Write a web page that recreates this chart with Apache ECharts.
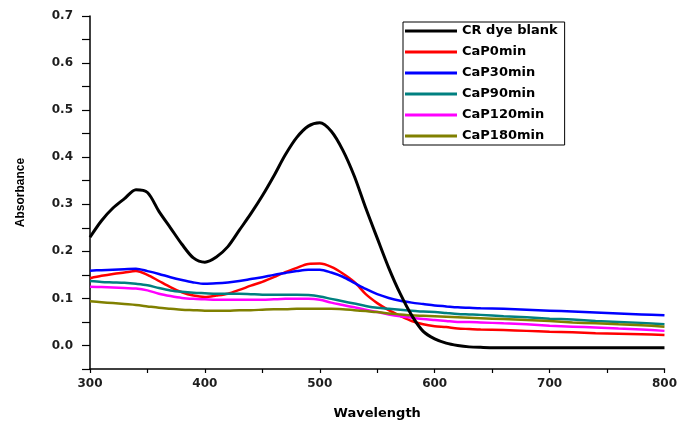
<!DOCTYPE html>
<html>
<head>
<meta charset="utf-8">
<title>Absorbance spectra</title>
<script src="https://cdn.jsdelivr.net/npm/echarts@6/dist/echarts.min.js"></script>
<style>
  html, body { margin: 0; padding: 0; background: #fff; }
  #chart { width: 680px; height: 425px; }
</style>
</head>
<body>
<div id="chart"></div>
<script>
// Wavelength grid (nm) shared by all spectra
const wavelengths = [300, 310, 320, 330, 340, 350, 360, 370, 380, 390,
  400, 410, 420, 430, 440, 450, 460, 470, 480, 490,
  500, 510, 520, 530, 540, 550, 560, 570, 580, 590,
  600, 610, 620, 630, 640, 660, 680, 700, 720, 740, 760, 780, 800];

const seriesNames = ['CR dye blank', 'CaP0min', 'CaP30min', 'CaP90min', 'CaP120min', 'CaP180min'];
const seriesColors = ['#000000', '#ff0000', '#0000ff', '#008080', '#ff00ff', '#808000'];

const crBlank = [0.230, 0.265, 0.292, 0.312, 0.331, 0.325, 0.285, 0.250, 0.215, 0.186,
  0.177, 0.188, 0.210, 0.245, 0.280, 0.318, 0.360, 0.405, 0.442, 0.466,
  0.473, 0.455, 0.415, 0.360, 0.292, 0.228, 0.165, 0.110, 0.064, 0.030,
  0.014, 0.005, 0.000, -0.003, -0.004, -0.005, -0.005, -0.005, -0.005, -0.005, -0.005, -0.005, -0.005];

const cap0 = [0.143, 0.148, 0.152, 0.155, 0.158, 0.150, 0.137, 0.124, 0.113, 0.106,
  0.103, 0.106, 0.110, 0.118, 0.127, 0.135, 0.145, 0.156, 0.165, 0.173,
  0.174, 0.167, 0.153, 0.135, 0.109, 0.090, 0.075, 0.063, 0.052, 0.045,
  0.041, 0.039, 0.036, 0.035, 0.034, 0.033, 0.031, 0.029, 0.028, 0.026, 0.025, 0.024, 0.022];

const cap30 = [0.159, 0.160, 0.161, 0.162, 0.163, 0.158, 0.152, 0.145, 0.139, 0.134,
  0.131, 0.132, 0.134, 0.137, 0.141, 0.145, 0.150, 0.154, 0.158, 0.161,
  0.161, 0.155, 0.146, 0.133, 0.120, 0.109, 0.101, 0.095, 0.091, 0.088,
  0.085, 0.083, 0.081, 0.080, 0.079, 0.078, 0.076, 0.074, 0.072, 0.070, 0.068, 0.066, 0.064];

const cap90 = [0.137, 0.135, 0.134, 0.133, 0.131, 0.128, 0.122, 0.117, 0.114, 0.112,
  0.111, 0.110, 0.110, 0.110, 0.109, 0.108, 0.108, 0.108, 0.108, 0.107,
  0.104, 0.099, 0.094, 0.089, 0.084, 0.080, 0.078, 0.076, 0.074, 0.072,
  0.071, 0.069, 0.067, 0.066, 0.065, 0.062, 0.060, 0.057, 0.055, 0.052, 0.050, 0.048, 0.045];

const cap120 = [0.125, 0.124, 0.123, 0.122, 0.121, 0.117, 0.110, 0.105, 0.101, 0.099,
  0.098, 0.097, 0.097, 0.097, 0.097, 0.097, 0.098, 0.099, 0.099, 0.099,
  0.097, 0.091, 0.086, 0.081, 0.076, 0.071, 0.066, 0.062, 0.059, 0.056,
  0.054, 0.052, 0.050, 0.050, 0.049, 0.047, 0.045, 0.042, 0.040, 0.038, 0.036, 0.034, 0.031];

const cap180 = [0.094, 0.092, 0.090, 0.088, 0.086, 0.083, 0.080, 0.078, 0.076, 0.075,
  0.074, 0.074, 0.074, 0.075, 0.075, 0.076, 0.077, 0.077, 0.078, 0.078,
  0.078, 0.078, 0.077, 0.075, 0.073, 0.071, 0.068, 0.066, 0.064, 0.063,
  0.062, 0.061, 0.060, 0.059, 0.058, 0.056, 0.054, 0.052, 0.049, 0.047, 0.045, 0.043, 0.040];

const spectra = [crBlank, cap0, cap30, cap90, cap120, cap180];

const labelColor = '#1e1e1e';
const tickFont = { fontFamily: 'DejaVu Sans', fontWeight: 'bold', fontSize: 12, color: labelColor };

const chart = echarts.init(document.getElementById('chart'), null, { renderer: 'canvas' });

chart.setOption({
  animation: false,
  backgroundColor: '#ffffff',
  grid: { left: 90, right: 12, top: 16, bottom: 51, containLabel: false },
  legend: {
    orient: 'vertical',
    left: 403,
    top: 22,
    data: seriesNames,
    icon: 'rect',
    itemWidth: 52,
    itemHeight: 3,
    itemGap: 7,
    itemTextGap: 5,
    selectedMode: false,
    borderColor: '#000000',
    borderWidth: 1,
    padding: [2, 7, 2, 2],
    textStyle: { fontFamily: 'DejaVu Sans', fontWeight: 'bold', fontSize: 13, lineHeight: 14, color: '#000000' }
  },
  xAxis: {
    type: 'value',
    min: 300,
    max: 800,
    interval: 50,
    name: 'Wavelength',
    nameLocation: 'middle',
    nameGap: 38,
    nameTextStyle: { fontFamily: 'DejaVu Sans', fontWeight: 'bold', fontSize: 13, color: '#000000' },
    axisLine: { show: true, onZero: false, lineStyle: { color: '#000000', width: 1.5 } },
    axisTick: { show: true, inside: false, length: 4, lineStyle: { color: '#000000', width: 1.2 } },
    axisLabel: {
      ...tickFont,
      margin: 9,
      formatter: v => (v % 100 === 0 ? String(v) : '')
    },
    splitLine: { show: false }
  },
  yAxis: {
    type: 'value',
    min: -0.05,
    max: 0.7,
    interval: 0.05,
    name: 'Absorbance',
    nameLocation: 'middle',
    nameRotate: 90,
    nameGap: 63,
    nameTextStyle: { fontFamily: 'Liberation Sans', fontWeight: 'bold', fontSize: 12, color: '#000000' },
    axisLine: { show: true, onZero: false, lineStyle: { color: '#000000', width: 1.5 } },
    axisTick: { show: true, inside: false, length: 8, lineStyle: { color: '#000000', width: 1.2 } },
    axisLabel: {
      ...tickFont,
      margin: 17,
      formatter: v => {
        const h = Math.round(v * 100);
        return (h % 10 === 0 && h >= 0) ? (h / 100).toFixed(1) : '';
      }
    },
    splitLine: { show: false }
  },
  series: seriesNames.map((name, i) => ({
    name: name,
    type: 'line',
    data: wavelengths.map((w, k) => [w, spectra[i][k]]),
    showSymbol: false,
    smooth: 0.3,
    color: seriesColors[i],
    lineStyle: { color: seriesColors[i], width: i === 0 ? 3 : 2.5 },
    z: i === 0 ? 3 : 2
  }))
});
</script>
</body>
</html>
